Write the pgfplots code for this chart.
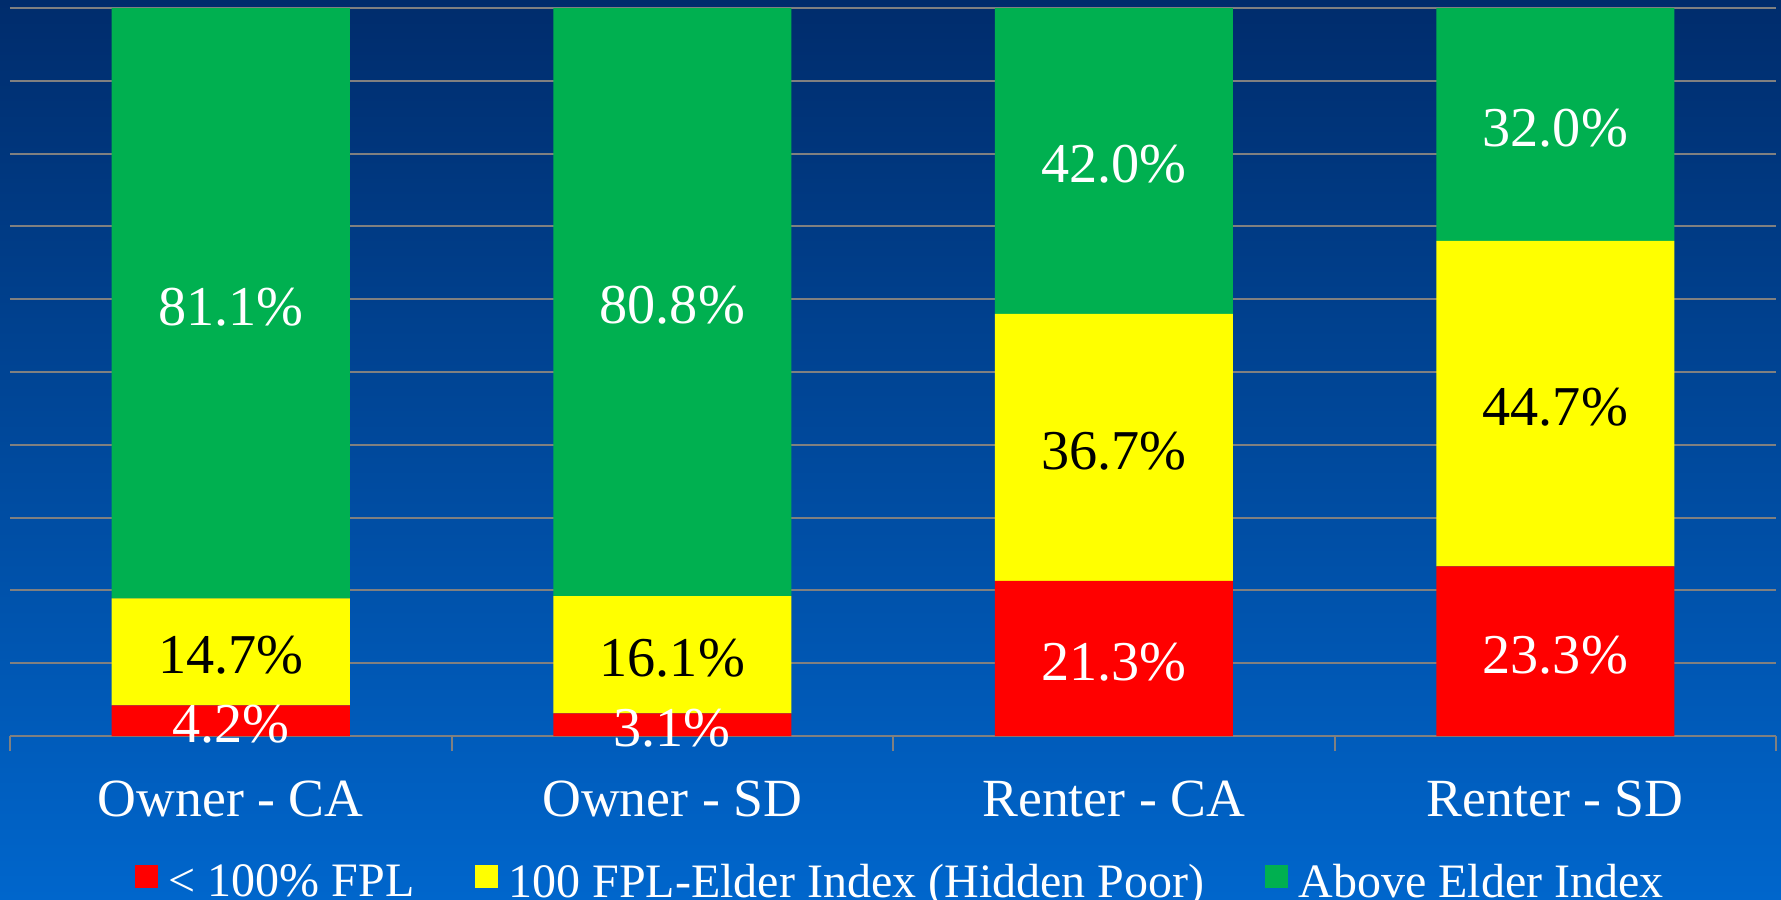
\documentclass[border=0pt]{standalone}
\usepackage{pgfplots}
\pgfplotsset{compat=1.18}
\usepackage{pgfplotstable}
\usepackage{fontspec}
\setmainfont{Liberation Serif}
\definecolor{bgtop}{RGB}{0,44,108}
\definecolor{bgbot}{RGB}{0,102,204}
\definecolor{gridgray}{RGB}{128,128,128}
\definecolor{cred}{RGB}{255,0,0}
\definecolor{cyel}{RGB}{255,255,0}
\definecolor{cgreen}{RGB}{0,176,80}

\pgfplotstableread{
x v
0 4.2
1 3.1
2 21.3
3 23.3
}\poor
\pgfplotstableread{
x v
0 14.7
1 16.1
2 36.7
3 44.7
}\hidden
\pgfplotstableread{
x v
0 81.1
1 80.8
2 42.0
3 32.0
}\above

\pgfplotsset{
  seglabel/.style={
    nodes near coords={\pgfmathprintnumber[fixed,fixed zerofill,precision=1,assume math mode=true]{\pgfplotspointmeta}\%},
    point meta=explicit,
    every node near coord/.append style={text=#1, anchor=center, yshift=-1.4pt,
      font=\fontsize{22.5}{26}\selectfont},
  }
}

\begin{document}
\begin{tikzpicture}
\useasboundingbox (0,0) rectangle (712.4pt,359.6pt);
\shade[top color=bgtop, bottom color=bgbot] (0,0) rectangle (712.4pt,359.6pt);
\begin{axis}[
  at={(4pt,65.2pt)}, anchor=south west,
  scale only axis, width=706.4pt, height=291.2pt,
  ybar stacked, bar width=95.2pt,
  xmin=-0.5, xmax=3.5, ymin=0, ymax=100,
  separate axis lines,
  x axis line style={draw=gridgray, line width=0.8pt},
  y axis line style={draw=none},
  tick pos=left,
  ytick={0,10,...,100}, yticklabels={},
  y tick style={draw=none},
  ymajorgrids, major grid style={gridgray, line width=0.8pt},
  xtick={0,1,2,3},
  xticklabels={Owner - CA, Owner - SD, Renter - CA, Renter - SD},
  x tick style={draw=none},
  xticklabel style={font=\fontsize{21.5}{24}\selectfont, text=white, anchor=base, yshift=-32pt},
  extra x ticks={-0.5,0.5,1.5,2.5,3.5},
  extra x tick labels={},
  extra x tick style={x tick style={draw=gridgray, line width=0.8pt}, major tick length=6pt, tick align=outside},
  legend columns=3,
  legend style={at={(axis description cs:0.505,-0.2017)}, anchor=center,
    draw=none, fill=none, text=white, font=\fontsize{19.2}{22}\selectfont,
    /tikz/every even column/.append style={column sep=22pt},
    /tikz/every odd column/.append style={column sep=2.2pt}},
  legend image code/.code={\fill[#1, draw=none] (0pt,-2.2pt) rectangle (9.4pt,7.2pt);},
]
\addplot[fill=cred, draw=none, seglabel=white] table[x=x, y=v, meta=v] {\poor};
\addlegendentry{< 100\% FPL}
\addplot[fill=cyel, draw=none, seglabel=black] table[x=x, y=v, meta=v] {\hidden};
\addlegendentry{100 FPL-Elder Index (Hidden Poor)}
\addplot[fill=cgreen, draw=none, seglabel=white] table[x=x, y=v, meta=v] {\above};
\addlegendentry{Above Elder Index}
\end{axis}
\end{tikzpicture}
\end{document}
